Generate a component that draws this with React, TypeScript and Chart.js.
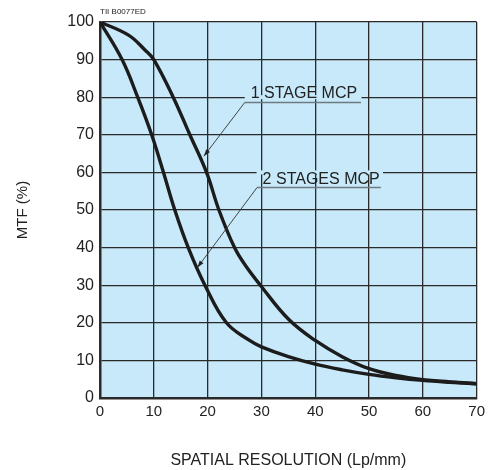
import React, { useEffect, useRef } from "react";
import { Chart, registerables } from "chart.js";

Chart.register(...registerables);

// ---- data ----
const xTickValues = [0, 10, 20, 30, 40, 50, 60, 70];
const yTickValues = [0, 10, 20, 30, 40, 50, 60, 70, 80, 90, 100];

const oneStageX = [0, 5.3, 8.4, 10, 13.6, 16.7, 19.8, 22.1, 25, 27, 29.8, 35, 40, 45, 50, 55, 60, 65, 70];
const oneStageY = [100, 96.5, 92.5, 90, 80, 70, 60, 50, 40, 35.3, 30, 21, 15.3, 11, 7.8, 6, 4.9, 4.3, 3.8];

const twoStageX = [0, 4.1, 7, 9.6, 11.8, 13.9, 16.4, 19.5, 23.5, 27.8, 30, 35, 40, 45, 50, 55, 60, 65, 70];
const twoStageY = [100, 90, 80, 70, 60, 50, 40, 30, 20, 15.3, 13.6, 11, 9, 7.5, 6.3, 5.4, 4.7, 4.2, 3.8];

const seriesLabels = ["1 STAGE MCP", "2 STAGES MCP"];
const xTitle = "SPATIAL RESOLUTION (Lp/mm)";
const yTitle = "MTF (%)";
const codeLabel = "TII B0077ED";

// annotation placement (data units)
const annotations = [
  { text: seriesLabels[0], cx: 37.9, cy: 81.1, gapX0: 26.9, gapX1: 48.6, gapY: 80, ulY: 78.6, ulX0: 26.9, ulX1: 48.5, tipX: 19.3, tipY: 64.3 },
  { text: seriesLabels[1], cx: 41.1, cy: 58.4, gapX0: 29.1, gapX1: 52.6, gapY: 60, ulY: 56.0, ulX0: 29.2, ulX1: 52.2, tipX: 18.1, tipY: 34.7 },
];

const BG = "#c7e9f9";
const FONT = "'Liberation Sans', Arial, sans-serif";
const TEXT = "#222";

const toPoints = (xs: number[], ys: number[]) => xs.map((x, i) => ({ x, y: ys[i] }));

const bgPlugin = {
  id: "plotBg",
  beforeDraw(chart: any) {
    const { ctx, chartArea: a } = chart;
    ctx.save();
    ctx.fillStyle = BG;
    ctx.fillRect(a.left, a.top, a.right - a.left, a.bottom - a.top);
    ctx.restore();
  },
};

const annoPlugin = {
  id: "annos",
  afterDatasetsDraw(chart: any) {
    const { ctx, chartArea: a } = chart;
    const xs = chart.scales.x;
    const ys = chart.scales.y;
    ctx.save();
    // code label
    ctx.fillStyle = TEXT;
    ctx.font = `8px ${FONT}`;
    ctx.textAlign = "left";
    ctx.textBaseline = "middle";
    ctx.fillText(codeLabel, xs.getPixelForValue(0), a.top - 10);

    for (const an of annotations) {
      // gap in gridline
      const gy = ys.getPixelForValue(an.gapY);
      ctx.fillStyle = BG;
      ctx.fillRect(xs.getPixelForValue(an.gapX0), gy - 2, xs.getPixelForValue(an.gapX1) - xs.getPixelForValue(an.gapX0), 4);
      // text
      ctx.fillStyle = TEXT;
      ctx.font = `16px ${FONT}`;
      ctx.textAlign = "center";
      ctx.textBaseline = "middle";
      ctx.fillText(an.text, xs.getPixelForValue(an.cx), ys.getPixelForValue(an.cy) + 1);
      // underline
      const uy = ys.getPixelForValue(an.ulY);
      const ux0 = xs.getPixelForValue(an.ulX0);
      const ux1 = xs.getPixelForValue(an.ulX1);
      ctx.strokeStyle = "#6f7a80";
      ctx.lineWidth = 1.5;
      ctx.beginPath();
      ctx.moveTo(ux0, uy);
      ctx.lineTo(ux1, uy);
      ctx.stroke();
      // leader
      const tx = xs.getPixelForValue(an.tipX);
      const ty = ys.getPixelForValue(an.tipY);
      ctx.strokeStyle = "#333";
      ctx.lineWidth = 0.9;
      ctx.beginPath();
      ctx.moveTo(ux0, uy);
      ctx.lineTo(tx, ty);
      ctx.stroke();
      // arrowhead
      const ang = Math.atan2(ty - uy, tx - ux0);
      const L = 7, W = 2.3;
      ctx.fillStyle = "#222";
      ctx.beginPath();
      ctx.moveTo(tx, ty);
      ctx.lineTo(tx - L * Math.cos(ang) + W * Math.sin(ang), ty - L * Math.sin(ang) - W * Math.cos(ang));
      ctx.lineTo(tx - L * Math.cos(ang) - W * Math.sin(ang), ty - L * Math.sin(ang) + W * Math.cos(ang));
      ctx.closePath();
      ctx.fill();
    }
    ctx.restore();
  },
};

export default function App() {
  const ref = useRef<HTMLCanvasElement | null>(null);

  useEffect(() => {
    if (!ref.current) return;
    const lineStyle = {
      showLine: true,
      borderColor: "#1c1c1c",
      borderWidth: 3.4,
      pointRadius: 0,
      tension: 0.4,
      fill: false,
    };
    const chart = new Chart(ref.current, {
      type: "scatter",
      data: {
        datasets: [
          { label: seriesLabels[0], data: toPoints(oneStageX, oneStageY), ...lineStyle },
          { label: seriesLabels[1], data: toPoints(twoStageX, twoStageY), ...lineStyle },
        ],
      },
      options: {
        responsive: false,
        animation: false,
        layout: { padding: { left: 0, right: 12, top: 22, bottom: 0 } },
        plugins: { legend: { display: false }, tooltip: { enabled: false } },
        scales: {
          x: {
            type: "linear",
            min: 0,
            max: 70,
            afterBuildTicks: (s: any) => {
              s.ticks = xTickValues.map((v) => ({ value: v }));
            },
            afterFit: (s: any) => {
              s.height = 72;
            },
            grid: { color: "#2a2a2a", lineWidth: 1.3, drawTicks: false },
            border: { color: "#2a2a2a", width: 2.5 },
            ticks: { color: TEXT, font: { family: FONT, size: 15 }, padding: 5, maxRotation: 0 },
            title: { display: true, text: xTitle, color: TEXT, font: { family: FONT, size: 16 }, padding: { top: 1, bottom: 0 } },
          },
          y: {
            type: "linear",
            min: 0,
            max: 100,
            afterBuildTicks: (s: any) => {
              s.ticks = yTickValues.map((v) => ({ value: v }));
            },
            afterFit: (s: any) => {
              s.width = 100;
            },
            grid: { color: "#2a2a2a", lineWidth: 1.3, drawTicks: false },
            border: { color: "#2a2a2a", width: 2.5 },
            ticks: { color: TEXT, font: { family: FONT, size: 16 }, padding: 6 },
            title: { display: true, text: yTitle, color: TEXT, font: { family: FONT, size: 15 }, padding: { top: 13.5, bottom: 0 } },
          },
        },
      },
      plugins: [bgPlugin, annoPlugin],
    });
    return () => chart.destroy();
  }, []);

  return (
    <div style={{ position: "fixed", left: 0, top: 0, width: 490, height: 470, background: "#fff" }}>
      <canvas ref={ref} width={490} height={470} style={{ width: 490, height: 470, display: "block" }} />
    </div>
  );
}
